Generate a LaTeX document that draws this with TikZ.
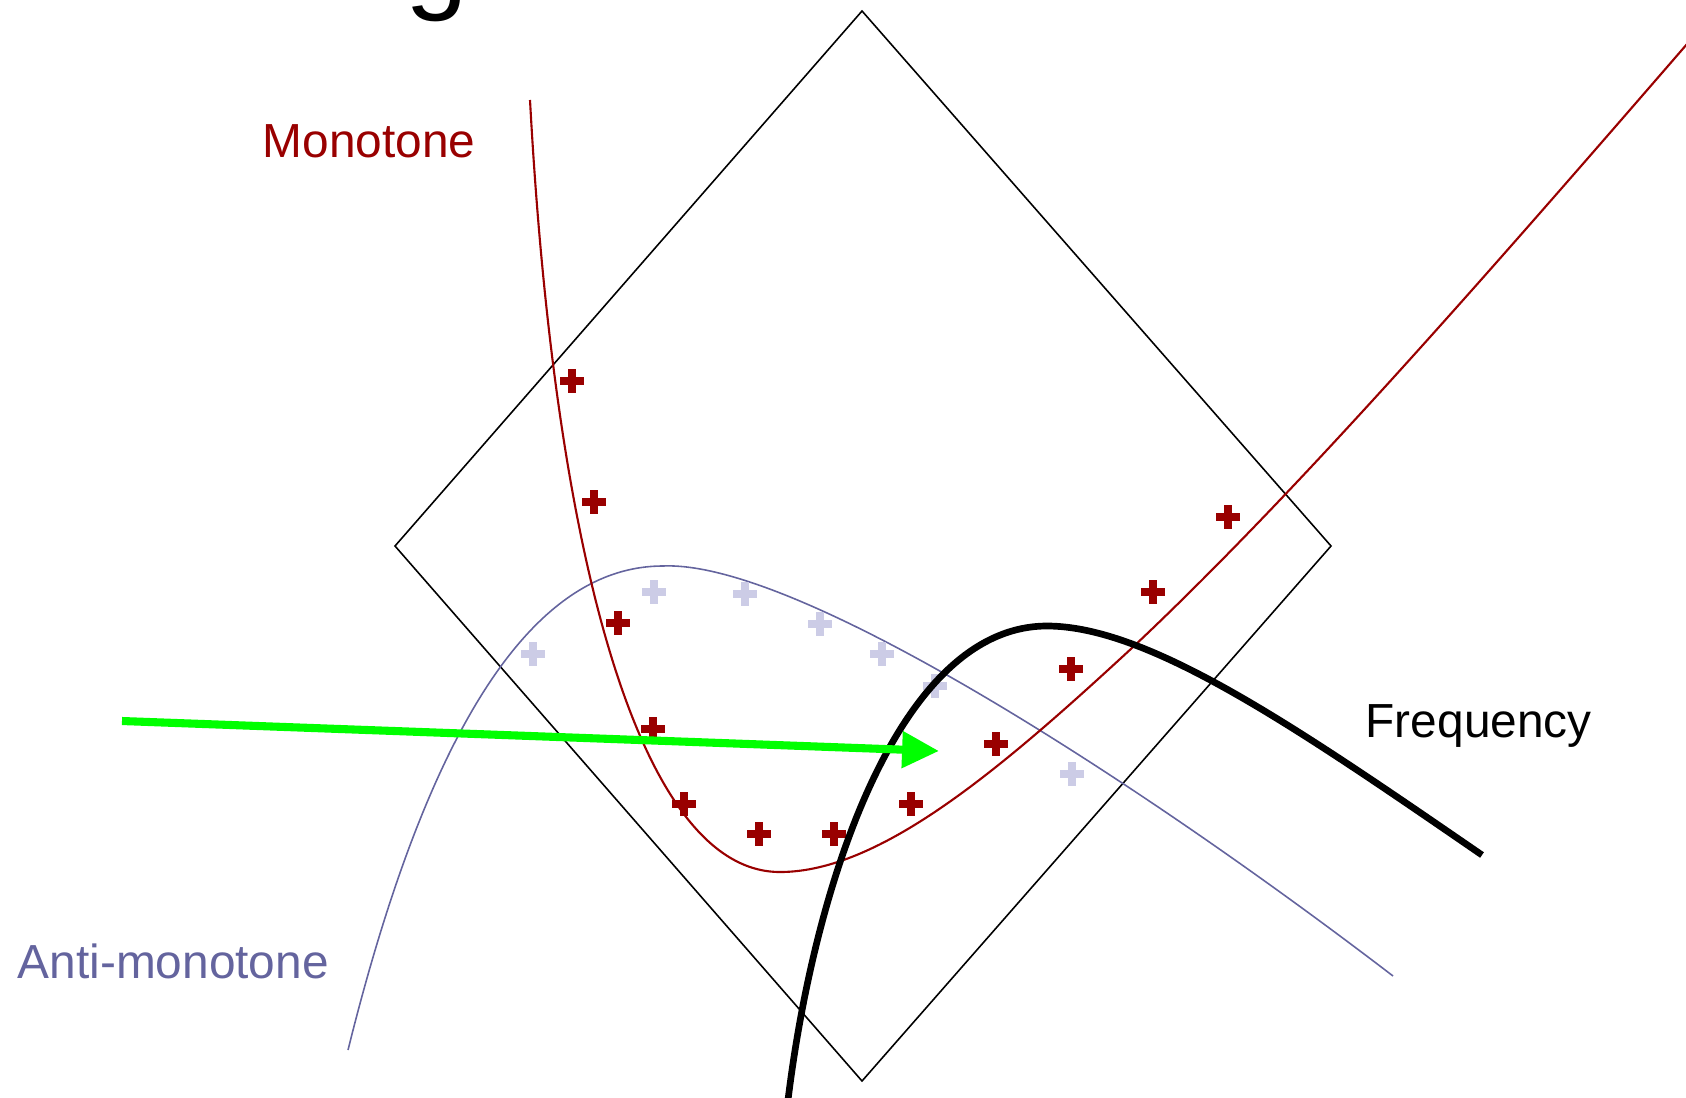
\documentclass[tikz,border=0pt]{standalone}
\usepackage{fontspec}
\setmainfont{Liberation Sans}
\usetikzlibrary{arrows.meta}
\definecolor{mnRed}{HTML}{990000}
\definecolor{mnBlue}{HTML}{64649E}
\definecolor{mnLight}{HTML}{CCCCE6}
\definecolor{mnGreen}{HTML}{00FF00}

\begin{document}
\begin{tikzpicture}[x=0.01cm,y=-0.01cm,font=\fontsize{13.6pt}{16pt}\selectfont]
  \useasboundingbox (0,0) rectangle (1686,1097);
  % reste du titre
  \node[anchor=base west,inner sep=0pt,font=\fontsize{32pt}{36pt}\selectfont] (titre) at (405,-1) {g};
  % espace de recherche
  \draw[line width=0.45pt] (862,11) -- (1331,546) -- (862,1081) -- (395,546) -- cycle;
  % contrainte anti-monotone
  \draw[mnBlue,line width=0.45pt] (348,1050) .. controls (420,760) and (520,566) .. (663,566)
    .. controls (800,560) and (1150,790) .. (1393,976);
  % contrainte monotone
  \draw[mnRed,line width=0.6pt] (530,100) .. controls (555,560) and (640,872) .. (780,872)
    .. controls (880,872) and (1000,770) .. (1133,647)
    .. controls (1300,490) and (1500,260) .. (1700,29);
  % motifs
  \foreach \x/\y in {533/654,654/592,745/594,820/624,882/654,935/686,1072/774}
    {\draw[mnLight,line width=2.2pt] (\x-12,\y) -- (\x+12,\y) (\x,\y-12) -- (\x,\y+12);}
  \foreach \x/\y in {572/381,594/502,618/623,653/729,684/804,759/834,834/834,911/804,996/744,1071/669,1153/592,1228/517}
    {\draw[mnRed,line width=2.2pt] (\x-12,\y) -- (\x+12,\y) (\x,\y-12) -- (\x,\y+12);}
  % frequence
  \draw[line width=1.9pt] (788,1100) .. controls (815,880) and (900,626) .. (1047,626)
    .. controls (1150,626) and (1300,730) .. (1482,855);
  % parcours
  \coordinate (depart) at (122,721);
  \coordinate (cible) at (939,751);
  \draw[mnGreen,line width=2.3pt,-{Triangle[length=10.5pt,width=10pt]}] (depart) -- (cible);
  % etiquettes
  \node[anchor=base west,inner sep=0pt,mnRed] (mono) at (262,157) {Monotone};
  \node[anchor=base west,inner sep=0pt,mnBlue] (anti) at (17,978) {Anti-monotone};
  \node[anchor=base west,inner sep=0pt] (freq) at (1365,737) {Frequency};
\end{tikzpicture}
\end{document}
